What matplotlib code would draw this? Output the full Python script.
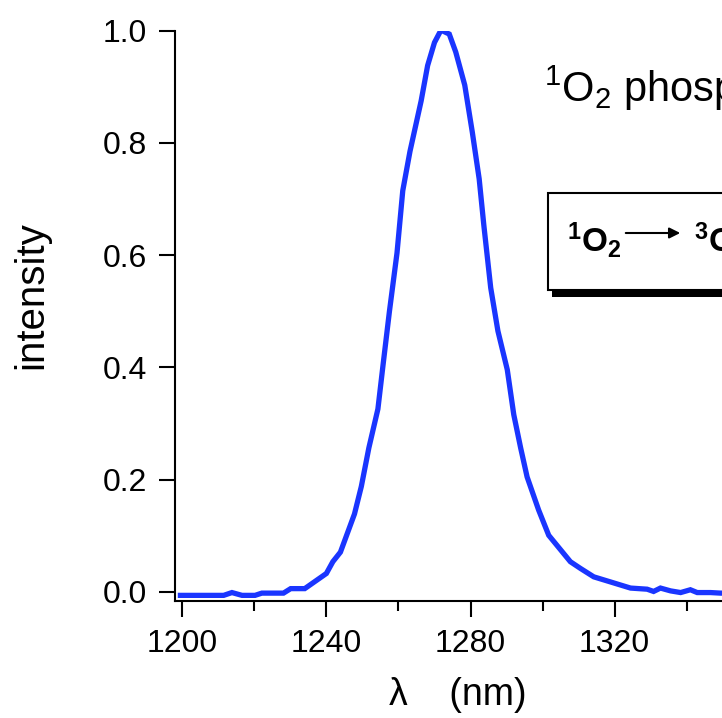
import matplotlib
matplotlib.use('Agg')
import matplotlib.pyplot as plt
from matplotlib.patches import Rectangle, FancyArrowPatch
from matplotlib.ticker import MultipleLocator, FormatStrFormatter

plt.rcParams['font.family'] = ['Liberation Sans', 'DejaVu Sans']
plt.rcParams['mathtext.fontset'] = 'custom'
plt.rcParams['mathtext.rm'] = 'Liberation Sans'
plt.rcParams['mathtext.it'] = 'Liberation Sans:italic'
plt.rcParams['mathtext.bf'] = 'Liberation Sans:bold'

# espectro
longitud = [1199.5, 1211.5, 1213.8, 1216.6, 1220.2, 1222.1, 1228.1, 1230.1, 1234.0,
            1240.0, 1241.8, 1243.9, 1247.8, 1249.7, 1251.8, 1254.3, 1255.7, 1257.5,
            1259.6, 1261.2, 1263.2, 1266.3, 1268.1, 1270.0, 1271.8, 1274.1, 1275.9,
            1278.4, 1280.5, 1282.4, 1283.7, 1285.6, 1287.6, 1290.2, 1292.0, 1293.9,
            1295.7, 1298.9, 1301.7, 1307.7, 1310.5, 1314.2, 1318.8, 1324.4, 1329.0,
            1330.8, 1332.7, 1335.5, 1338.3, 1341.0, 1342.9, 1346.6, 1349.4, 1352.0]
intensidad = [-0.006, -0.006, -0.001, -0.006, -0.006, -0.002, -0.002, 0.006, 0.006,
              0.033, 0.054, 0.071, 0.139, 0.188, 0.257, 0.326, 0.403, 0.500,
              0.604, 0.715, 0.785, 0.875, 0.938, 0.979, 1.001, 0.994, 0.962,
              0.903, 0.819, 0.736, 0.653, 0.542, 0.465, 0.396, 0.316, 0.257,
              0.205, 0.146, 0.101, 0.054, 0.042, 0.027, 0.018, 0.007, 0.005,
              0.001, 0.007, 0.002, -0.001, 0.004, -0.001, -0.001, -0.002, -0.002]

W, H = 722, 718
fig = plt.figure(figsize=(W / 100, H / 100), dpi=100)
ax = fig.add_axes([175 / W, 1 - 600.7 / H, 728 / W, 570 / H])

ax.plot(longitud, intensidad, color='#1a35ff', lw=3.8, solid_joinstyle='miter')

ax.set_xlim(1198, 1400)
ax.set_ylim(-0.0155, 1.0)
ax.spines['top'].set_visible(False)
ax.spines['right'].set_visible(False)
for s in ['left', 'bottom']:
    ax.spines[s].set_linewidth(1.5)

ax.xaxis.set_major_locator(MultipleLocator(40))
ax.xaxis.set_minor_locator(MultipleLocator(20))
ax.yaxis.set_major_locator(MultipleLocator(0.2))
ax.yaxis.set_major_formatter(FormatStrFormatter('%.1f'))
ax.tick_params(axis='both', which='major', direction='out', length=11.5, width=1.5, labelsize=23)
ax.tick_params(axis='x', which='major', pad=9)
ax.tick_params(axis='y', which='major', pad=8.5)
ax.tick_params(axis='x', which='minor', direction='out', length=7, width=1.5)

# etiquetas de los ejes
fig.text(31.5 / W, 1 - 295 / H, 'intensity', rotation=90, ha='center', va='center', fontsize=29)
fig.text(458 / W, 1 - 705 / H, 'λ    (nm)', ha='center', va='baseline', fontsize=27)

# texto de fosforescencia
fig.text(544 / W, 1 - 101.7 / H, r'$^{1}$O$_{2}$ phosphorescence', ha='left', va='baseline', fontsize=30)

# caja con sombra
sombra = Rectangle((552 / W, 1 - 297 / H), 0.6, 97 / H, transform=fig.transFigure,
                   facecolor='black', edgecolor='black', lw=0)
caja = Rectangle((548 / W, 1 - 290 / H), 0.6, 97 / H, transform=fig.transFigure,
                 facecolor='white', edgecolor='black', lw=1.5)
fig.add_artist(sombra)
fig.add_artist(caja)
fig.text(567 / W, 1 - 252 / H, r'$\mathbf{{}^{1}O_{2}}$', ha='left', va='baseline', fontsize=24)
flecha = FancyArrowPatch((623 / W, 1 - 233 / H), (683 / W, 1 - 233 / H), transform=fig.transFigure,
                         arrowstyle='-|>', mutation_scale=16, lw=1.5, color='black')
fig.add_artist(flecha)
fig.text(694 / W, 1 - 252 / H, r'$\mathbf{{}^{3}O_{2}}$', ha='left', va='baseline', fontsize=24)

fig.savefig('out.png', dpi=100)
